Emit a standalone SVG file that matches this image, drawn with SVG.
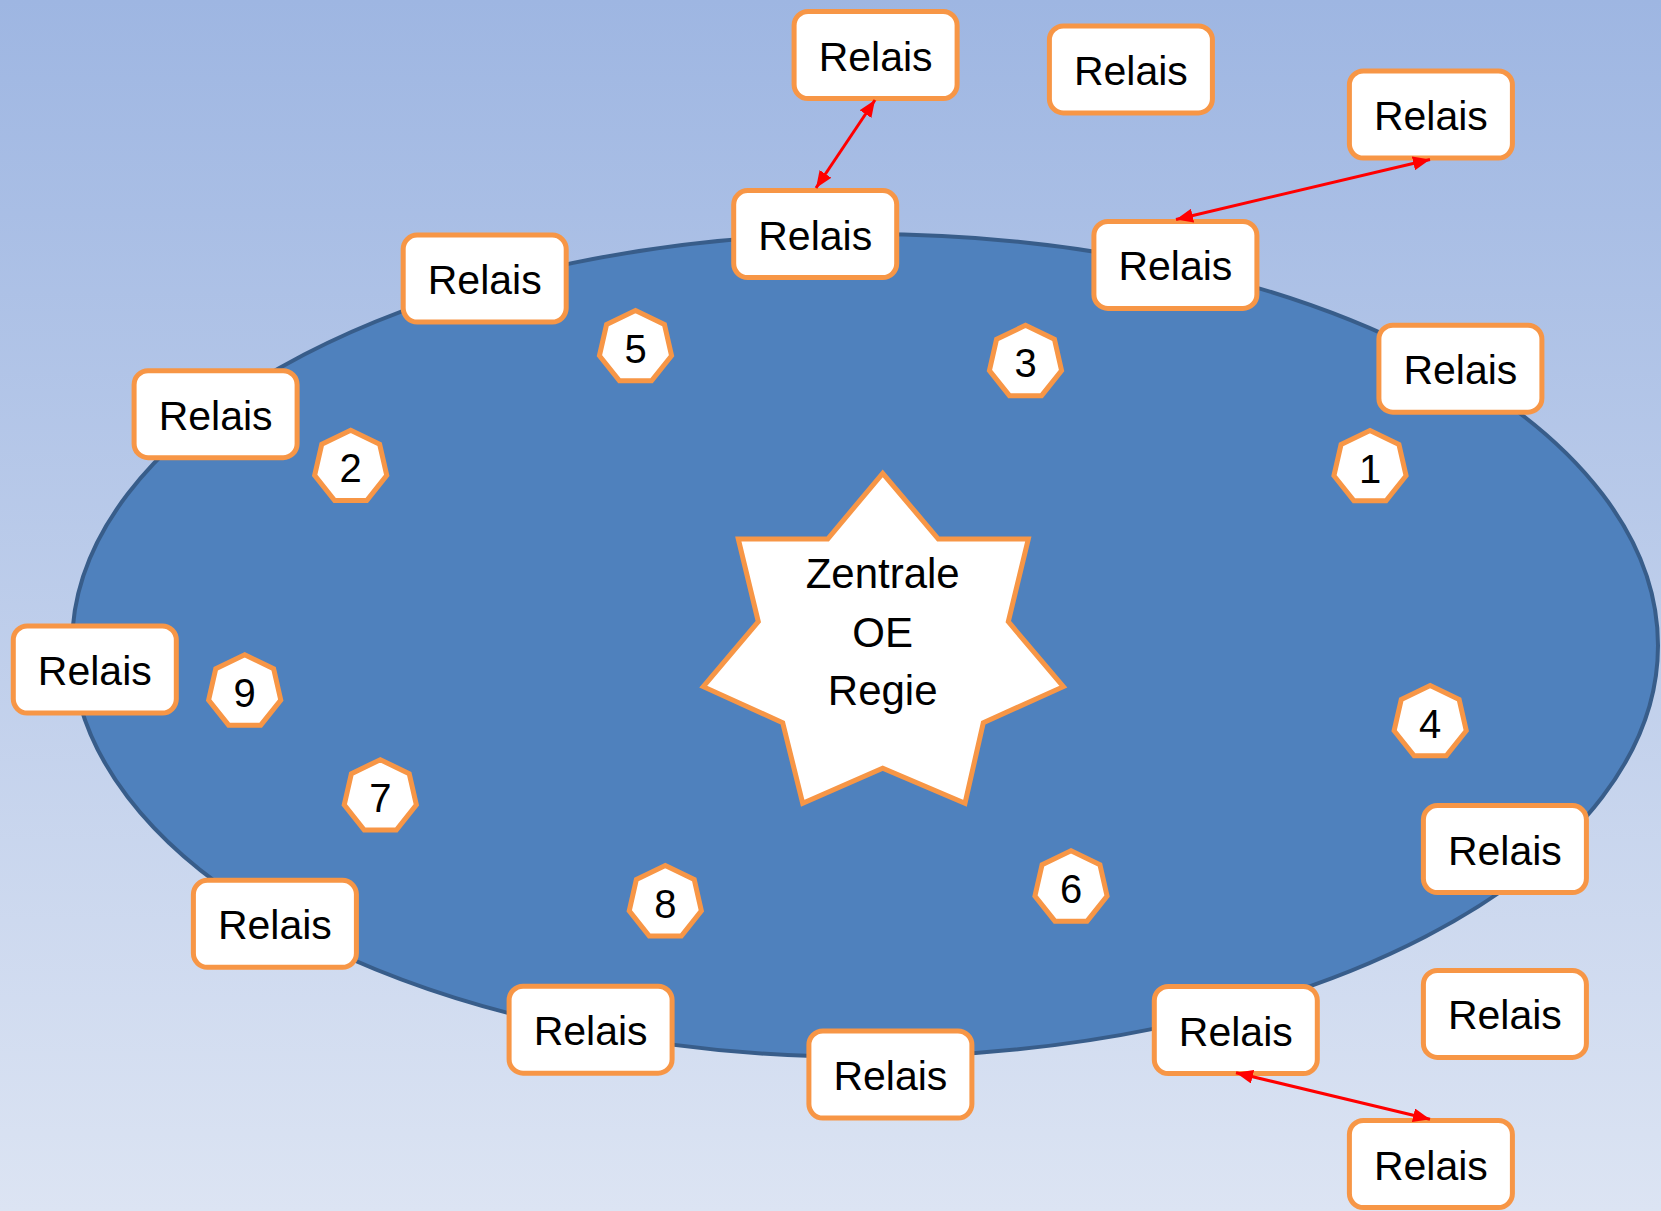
<svg xmlns="http://www.w3.org/2000/svg" xmlns:xlink="http://www.w3.org/1999/xlink" width="1661" height="1211" viewBox="0 0 1661 1211">
<style>
.box{fill:#ffffff;stroke:#f79646;stroke-width:5}
.hept{fill:#ffffff;stroke:#f79646;stroke-width:5;stroke-linejoin:miter}
.lbl{font-family:"Liberation Sans",Arial,sans-serif;font-size:41px;fill:#000000;text-anchor:middle}
.num{font-family:"Liberation Sans",Arial,sans-serif;font-size:40px;fill:#000000;text-anchor:middle}
.star{font-family:"Liberation Sans",Arial,sans-serif;font-size:42px;fill:#000000;text-anchor:middle}
.conn{stroke:#ff0000;stroke-width:3;fill:none;marker-start:url(#ah);marker-end:url(#ah)}
</style>
<defs>
<linearGradient id="bg" x1="0" y1="0" x2="0" y2="1">
<stop offset="0" stop-color="#9eb6e2"/>
<stop offset="1" stop-color="#dce4f3"/>
</linearGradient>
<marker id="ah" markerUnits="userSpaceOnUse" viewBox="0 0 17 14" markerWidth="17" markerHeight="14" refX="17" refY="7" orient="auto-start-reverse">
<path d="M0,0 L17,7 L0,14 z" fill="#ff0000"/>
</marker>
<polygon id="hp" points="0,-37 28.93,-23.07 36.07,8.23 16.05,33.34 -16.05,33.34 -36.07,8.23 -28.93,-23.07"/>
</defs>
<rect x="0" y="0" width="1661" height="1211" fill="url(#bg)"/>
<ellipse id="ring" cx="865" cy="645.5" rx="793" ry="411.5" fill="#4f81bd" stroke="#385d8a" stroke-width="4"/>

<g id="central">
<polygon points="882.7,473.3 938.3,539 1028.3,539 1008.3,621.7 1063.3,686.7 983.3,722.7 965,803.3 882.7,768.3 802.7,803.3 782.7,722.7 703.3,686.7 758.3,621.7 738.3,539 827.7,539" fill="#ffffff" stroke="#f79646" stroke-width="5" stroke-linejoin="miter"/>
<text class="star" x="882.7" y="588">Zentrale</text>
<text class="star" x="882.7" y="646.7">OE</text>
<text class="star" x="882.7" y="705">Regie</text>
</g>

<g id="h5"><use xlink:href="#hp" class="hept" x="635.5" y="347.5"/><text class="num" x="635.5" y="362.5">5</text></g>
<g id="h3"><use xlink:href="#hp" class="hept" x="1025.5" y="362.3"/><text class="num" x="1025.5" y="377.3">3</text></g>
<g id="h2"><use xlink:href="#hp" class="hept" x="350.7" y="467.2"/><text class="num" x="350.7" y="482.2">2</text></g>
<g id="h1"><use xlink:href="#hp" class="hept" x="1370" y="467.5"/><text class="num" x="1370" y="482.5">1</text></g>
<g id="h9"><use xlink:href="#hp" class="hept" x="244.7" y="691.8"/><text class="num" x="244.7" y="706.8">9</text></g>
<g id="h4"><use xlink:href="#hp" class="hept" x="1430.2" y="722.5"/><text class="num" x="1430.2" y="737.5">4</text></g>
<g id="h7"><use xlink:href="#hp" class="hept" x="380.3" y="796.7"/><text class="num" x="380.3" y="811.7">7</text></g>
<g id="h8"><use xlink:href="#hp" class="hept" x="665.3" y="902.6"/><text class="num" x="665.3" y="917.6">8</text></g>
<g id="h6"><use xlink:href="#hp" class="hept" x="1071" y="887.8"/><text class="num" x="1071" y="902.8">6</text></g>

<g id="r1"><rect class="box" x="794.1" y="11.5" width="163" height="87" rx="14"/><text class="lbl" x="875.6" y="70.5">Relais</text></g>
<g id="r2"><rect class="box" x="1049.4" y="25.9" width="163" height="87" rx="14"/><text class="lbl" x="1130.9" y="84.9">Relais</text></g>
<g id="r3"><rect class="box" x="1349.4" y="71" width="163" height="87" rx="14"/><text class="lbl" x="1430.9" y="130">Relais</text></g>
<g id="r4"><rect class="box" x="733.7" y="190.6" width="163" height="87" rx="14"/><text class="lbl" x="815.2" y="249.6">Relais</text></g>
<g id="r5"><rect class="box" x="1093.9" y="221.4" width="163" height="87" rx="14"/><text class="lbl" x="1175.4" y="280.4">Relais</text></g>
<g id="r6"><rect class="box" x="403.2" y="235.1" width="163" height="87" rx="14"/><text class="lbl" x="484.7" y="294.1">Relais</text></g>
<g id="r7"><rect class="box" x="1378.9" y="325.2" width="163" height="87" rx="14"/><text class="lbl" x="1460.4" y="384.2">Relais</text></g>
<g id="r8"><rect class="box" x="134.1" y="370.7" width="163" height="87" rx="14"/><text class="lbl" x="215.6" y="429.7">Relais</text></g>
<g id="r9"><rect class="box" x="13.3" y="626" width="163" height="87" rx="14"/><text class="lbl" x="94.8" y="685">Relais</text></g>
<g id="r10"><rect class="box" x="1423.4" y="805.6" width="163" height="87" rx="14"/><text class="lbl" x="1504.9" y="864.6">Relais</text></g>
<g id="r11"><rect class="box" x="193.4" y="880.3" width="163" height="87" rx="14"/><text class="lbl" x="274.9" y="939.3">Relais</text></g>
<g id="r12"><rect class="box" x="509.1" y="986.2" width="163" height="87" rx="14"/><text class="lbl" x="590.6" y="1045.2">Relais</text></g>
<g id="r13"><rect class="box" x="1423.4" y="970.4" width="163" height="87" rx="14"/><text class="lbl" x="1504.9" y="1029.4">Relais</text></g>
<g id="r14"><rect class="box" x="808.9" y="1031" width="163" height="87" rx="14"/><text class="lbl" x="890.4" y="1090">Relais</text></g>
<g id="r15"><rect class="box" x="1154.3" y="986.5" width="163" height="87" rx="14"/><text class="lbl" x="1235.8" y="1045.5">Relais</text></g>
<g id="r16"><rect class="box" x="1349.4" y="1120.5" width="163" height="87" rx="14"/><text class="lbl" x="1430.9" y="1179.5">Relais</text></g>

<g id="connectors">
<line class="conn" x1="875" y1="100" x2="816" y2="188"/>
<line class="conn" x1="1430" y1="159.5" x2="1176" y2="219.5"/>
<line class="conn" x1="1236" y1="1072.7" x2="1430" y2="1119.3"/>
</g>
</svg>
